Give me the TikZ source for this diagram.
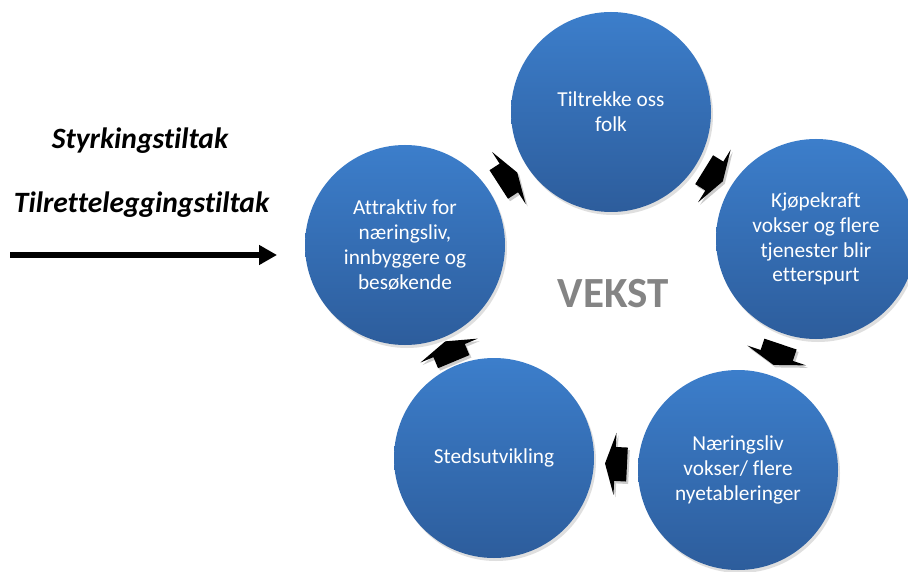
\documentclass[tikz,border=0pt]{standalone}
\usepackage{fontspec}
\setmainfont{Carlito}[Ligatures=NoCommon]
\usetikzlibrary{arrows.meta,shadows,calc}
\definecolor{ctop}{RGB}{60,126,203}
\definecolor{cbot}{RGB}{45,93,156}
\definecolor{vekstgray}{RGB}{132,132,132}
\tikzset{
  cyclecircle/.style={circle, minimum size=200pt, inner sep=0pt,
    top color=ctop, bottom color=cbot, draw=none, text=white,
    align=center, font=\fontsize{21.3}{24.8}\selectfont,
    drop shadow={opacity=0.25, shadow xshift=2pt, shadow yshift=-3pt}},
  cyclearrow/.style={fill=black, draw=none},
  arrowshadow/.style={fill=black, fill opacity=0.2, draw=none},
  sidetext/.style={anchor=base, font=\fontsize{29.5}{35}\selectfont\bfseries\itshape},
}
\newcommand{\cyclearr}[3]{%
  \coordinate (#3) at ($(#1.center)!0.5!(#2.center)$);
  \path let \p1=($(#2.center)-(#1.center)$), \n1={atan2(\y1,\x1)} in
    [arrowshadow, shift={(#3)}, xshift=2pt, yshift=-2.5pt, rotate=\n1]
    (-11,-17) -- (1,-17) -- (1,-31) -- (11,0) -- (1,31) -- (1,17) -- (-11,17) -- cycle;
  \path let \p1=($(#2.center)-(#1.center)$), \n1={atan2(\y1,\x1)} in
    [cyclearrow, shift={(#3)}, rotate=\n1]
    (-11,-17) -- (1,-17) -- (1,-31) -- (11,0) -- (1,31) -- (1,17) -- (-11,17) -- cycle;
}
\begin{document}
\begin{tikzpicture}[x=1pt,y=-1pt]
\useasboundingbox (0,0) rectangle (908,572);
\fill[white] (0,0) rectangle (908,572);

\node[cyclecircle] (top) at (611,112) {Tiltrekke oss\\folk};
\node[cyclecircle] (right) at (816,239) {Kjøpekraft\\vokser og flere\\tjenester blir\\etterspurt};
\node[cyclecircle] (br) at (738,470) {Næringsliv\\vokser/ flere\\nyetableringer};
\node[cyclecircle] (bl) at (494,458) {Stedsutvikling};
\node[cyclecircle] (left) at (405,245) {Attraktiv for\\næringsliv,\\innbyggere og\\besøkende};

\cyclearr{left}{top}{a1}
\cyclearr{top}{right}{a2}
\cyclearr{right}{br}{a3}
\cyclearr{br}{bl}{a4}
\cyclearr{bl}{left}{a5}

\node[anchor=base, text=vekstgray, font=\fontsize{43}{50}\selectfont\bfseries] (vekst) at (613,308) {VEKST};

\node[sidetext] (styrk) at (140,149) {Styrkingstiltak};
\node[sidetext] (tilr) at (141.5,213) {Tilretteleggingstiltak};

\coordinate (as) at (10,255);
\coordinate (ae) at (277,255);
\draw[line width=6.5pt, -{Triangle[length=18pt,width=19pt]}] (as) -- (ae);
\end{tikzpicture}
\end{document}
